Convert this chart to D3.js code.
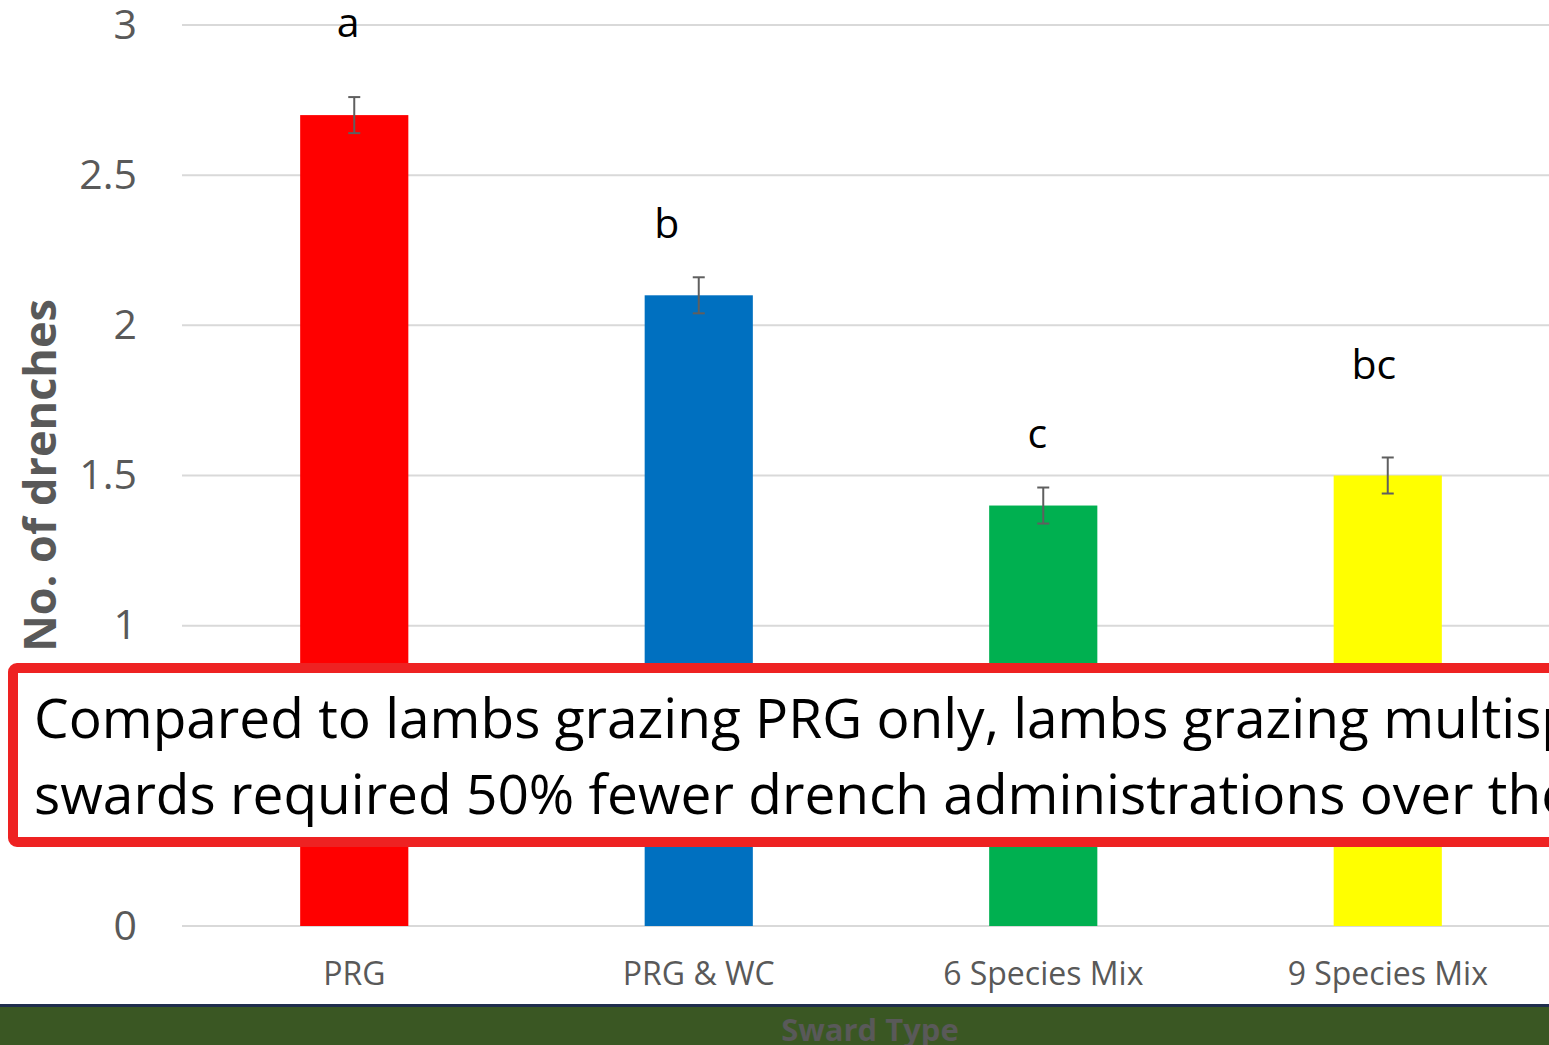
<!DOCTYPE html>
<html>
<head>
<meta charset="utf-8">
<script src="https://cdn.jsdelivr.net/npm/d3@7"></script>
<style>
  html, body { margin: 0; padding: 0; background: #fff; overflow: hidden; }
  svg { display: block; }
</style>
</head>
<body>
<div id="chart"></div>
<script>
// data
const categories = ["PRG", "PRG & WC", "6 Species Mix", "9 Species Mix"];
const drenches = [2.7, 2.1, 1.4, 1.5];
const errors = [0.06, 0.06, 0.06, 0.06];
const letters = ["a", "b", "c", "bc"];
const letterY = [2.96, 2.29, 1.59, 1.82];
const barColors = ["#ff0000", "#0070c0", "#00b050", "#ffff00"];
const yTicks = [0, 0.5, 1, 1.5, 2, 2.5, 3];
const boxLines = [
  "Compared to lambs grazing PRG only, lambs grazing multispecies",
  "swards required 50% fewer drench administrations over the season"
];

const W = 1549, H = 1045;
const margin = { top: 25, left: 182, bottom: 119 };
const plotW = 1378, plotH = H - margin.top - margin.bottom;

const svg = d3.select("#chart").append("svg")
  .attr("width", W).attr("height", H);

const x = d3.scaleBand().domain(categories).range([0, plotW]).paddingInner(0.686).paddingOuter(0.343);
const y = d3.scaleLinear().domain([0, 3]).range([plotH, 0]);

const g = svg.append("g").attr("transform", `translate(${margin.left},${margin.top})`);

// gridlines
g.append("g").selectAll("line").data(yTicks).join("line")
  .attr("x1", 0).attr("x2", plotW)
  .attr("y1", d => y(d)).attr("y2", d => y(d))
  .attr("stroke", "#d9d9d9").attr("stroke-width", 2);

// y tick labels
const yAxis = d3.axisLeft(y).tickValues(yTicks).tickSize(0).tickPadding(45).tickFormat(d3.format("~g"));
g.append("g").call(yAxis)
  .call(a => a.select(".domain").remove())
  .selectAll("text")
  .attr("font-family", "Open Sans").attr("font-size", 41).attr("fill", "#595959");

// bars
g.append("g").selectAll("rect").data(drenches).join("rect")
  .attr("x", (d, i) => x(categories[i]))
  .attr("y", d => y(d))
  .attr("width", x.bandwidth())
  .attr("height", d => plotH - y(d))
  .attr("fill", (d, i) => barColors[i]);

// error bars
const eb = g.append("g").attr("stroke", "#5f5f5f").attr("stroke-width", 2);
drenches.forEach((d, i) => {
  const cx = x(categories[i]) + x.bandwidth() / 2;
  eb.append("line").attr("x1", cx).attr("x2", cx).attr("y1", y(d + errors[i])).attr("y2", y(d - errors[i]));
  [d + errors[i], d - errors[i]].forEach(v => {
    eb.append("line").attr("x1", cx - 6).attr("x2", cx + 6).attr("y1", y(v)).attr("y2", y(v));
  });
});

// significance letters
const letterDx = [-6, -32, -6, -14];
g.append("g").selectAll("text").data(letters).join("text")
  .attr("x", (d, i) => x(categories[i]) + x.bandwidth() / 2 + letterDx[i])
  .attr("y", (d, i) => y(letterY[i]))
  .attr("text-anchor", "middle")
  .attr("font-family", "Open Sans").attr("font-size", 41).attr("fill", "#000")
  .text(d => d);

// x labels
const xAxis = d3.axisBottom(x).tickSize(0).tickPadding(36);
g.append("g").attr("transform", `translate(0,${plotH})`).call(xAxis)
  .call(a => a.select(".domain").remove())
  .selectAll("text")
  .attr("font-family", "Open Sans").attr("font-size", 32).attr("fill", "#595959");

// y title
svg.append("text")
  .attr("transform", `translate(56,${margin.top + y(1.5)}) rotate(-90)`)
  .attr("text-anchor", "middle")
  .attr("font-family", "Open Sans").attr("font-weight", "bold").attr("font-size", 45)
  .attr("fill", "#595959")
  .text("No. of drenches");

// bottom band with x title
svg.append("rect").attr("x", 0).attr("y", 1005).attr("width", W).attr("height", 40).attr("fill", "#3a5723");
svg.append("rect").attr("x", 0).attr("y", 1004).attr("width", W).attr("height", 3).attr("fill", "#1f2d4d");
svg.append("text")
  .attr("x", 870).attr("y", 1041)
  .attr("text-anchor", "middle")
  .attr("font-family", "Open Sans").attr("font-weight", "bold").attr("font-size", 31)
  .attr("fill", "#595959")
  .text("Sward Type");

// red callout box
svg.append("rect")
  .attr("x", 13).attr("y", 668).attr("width", 1600).attr("height", 174).attr("rx", 4)
  .attr("fill", "#fff").attr("stroke", "#ee2222").attr("stroke-width", 10);
svg.append("g").selectAll("text").data(boxLines).join("text")
  .attr("x", 34).attr("y", (d, i) => 738 + i * 76)
  .attr("font-family", "Open Sans").attr("font-size", 55).attr("fill", "#000")
  .text(d => d);
</script>
</body>
</html>
